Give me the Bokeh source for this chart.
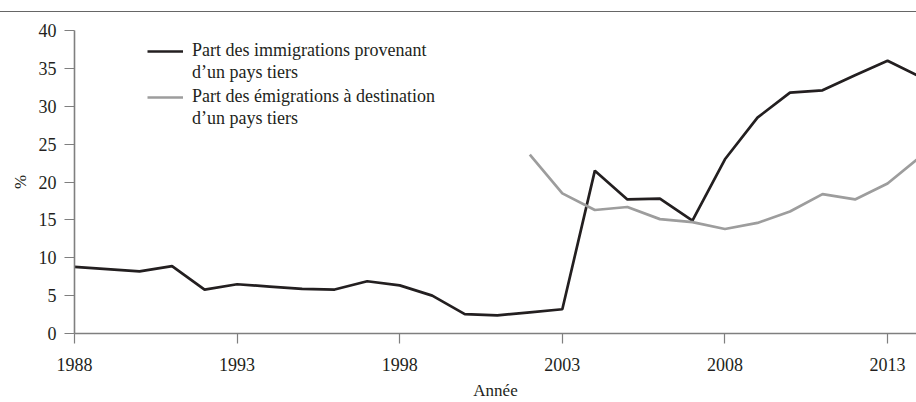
from bokeh.plotting import figure
from bokeh.models import Legend, LegendItem, Div, FixedTicker, Range1d
from bokeh.layouts import column
from bokeh.embed import file_html
from bokeh.resources import INLINE

# --- data ---
years_imm = list(range(1988, 2015))
part_imm = [8.8, 8.5, 8.2, 8.9, 5.8, 6.5, 6.2, 5.9, 5.8, 6.9, 6.35, 5.0, 2.55,
            2.4, 2.8, 3.2, 21.5, 17.7, 17.8, 14.9, 23.0, 28.5, 31.8, 32.1,
            34.1, 36.0, 33.9]
years_emi = list(range(2002, 2015))
part_emi = [23.6, 18.5, 16.3, 16.7, 15.1, 14.7, 13.8, 14.6, 16.1, 18.4, 17.7,
            19.8, 23.3]
x_ticks = [1988, 1993, 1998, 2003, 2008, 2013]
y_ticks = [0, 5, 10, 15, 20, 25, 30, 35, 40]
label_imm = ["Part des immigrations provenant", "d\u2019un pays tiers"]
label_emi = ["Part des \u00e9migrations \u00e0 destination", "d\u2019un pays tiers"]
x_title = "Ann\u00e9e"
y_title = "%"

FONT = "Liberation Serif"
TXT = "#231f20"
AX = "#7f7f7f"

p = figure(width=916, height=390, output_backend="svg", toolbar_location=None,
           x_range=Range1d(1988, 2013.89), y_range=Range1d(0, 40),
           min_border_left=74, min_border_right=0, min_border_top=18,
           min_border_bottom=69)
p.outline_line_color = None
p.grid.visible = False
p.background_fill_color = "white"

r1 = p.line(years_imm, part_imm, line_color="#231f20", line_width=2.7)
r2 = p.line(years_emi, part_emi, line_color="#9d9d9d", line_width=2.7)
r_blank = p.line(x=[], y=[], line_alpha=0)

for ax in (p.xaxis[0], p.yaxis[0]):
    ax.axis_line_color = AX
    ax.axis_line_width = 1.6
    ax.major_tick_line_color = AX
    ax.major_tick_line_width = 1.2
    ax.major_tick_in = 0
    ax.major_tick_out = 10
    ax.minor_tick_line_color = None
    ax.major_label_text_font = FONT
    ax.major_label_text_font_size = "18px"
    ax.major_label_text_color = TXT
    ax.axis_label_text_font = FONT
    ax.axis_label_text_font_size = "17px"
    ax.axis_label_text_font_style = "normal"
    ax.axis_label_text_color = TXT

p.xaxis.ticker = FixedTicker(ticks=x_ticks)
p.yaxis.ticker = FixedTicker(ticks=y_ticks)
p.xaxis.axis_label = x_title
p.yaxis.axis_label = y_title
p.xaxis.major_label_standoff = 14
p.xaxis.axis_label_standoff = 7
p.yaxis.major_label_standoff = 8
p.yaxis.axis_label_standoff = 6


def make_legend(labels, renderer, loc):
    items = [LegendItem(label=labels[0], renderers=[renderer]),
             LegendItem(label=labels[1], renderers=[r_blank])]
    return Legend(items=items, location=loc, border_line_color=None,
                  background_fill_alpha=0, padding=0, margin=0, spacing=1,
                  glyph_width=36, glyph_height=20, label_height=20,
                  label_standoff=9, label_text_font=FONT,
                  label_text_font_size="18px", label_text_color=TXT)


p.add_layout(make_legend(label_imm, r1, (73, 250)))
p.add_layout(make_legend(label_emi, r2, (73, 204)))

rule = Div(text="", width=916, height=12, margin=(0, 0, 0, 0),
           styles={"border-bottom": "1.5px solid #666666", "box-sizing": "border-box"})

layout = column(rule, p, spacing=0)
open("out.html", "w").write(file_html(layout, INLINE))
